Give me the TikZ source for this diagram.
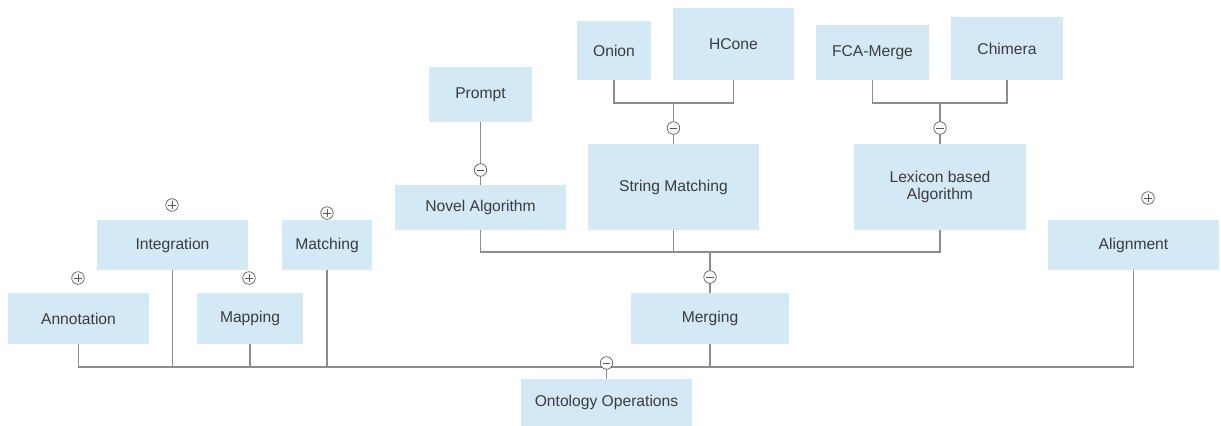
\documentclass[tikz,border=0pt]{standalone}
\usepackage{fontspec}
\setmainfont{Liberation Sans}
\usepackage{tikz}

\definecolor{opblue}{RGB}{212,233,246}
\definecolor{optext}{RGB}{60,60,60}
\definecolor{opline}{RGB}{140,140,140}
\definecolor{opmark}{RGB}{90,90,90}

\tikzset{
  opbox/.style={fill=opblue, text=optext, inner sep=0pt, align=center,
    font=\fontsize{8.9pt}{9.2pt}\selectfont},
  link/.style={draw=opline, line width=0.8pt},
  markbase/.style={circle, draw=opmark, fill=white, line width=0.4pt,
    minimum size=0.25cm, inner sep=0pt},
  minusmark/.style={markbase, path picture={
    \draw[opmark, line width=0.5pt] ([xshift=-0.075cm]path picture bounding box.center)
      -- ([xshift=0.075cm]path picture bounding box.center);}},
  plusmark/.style={markbase, path picture={
    \draw[opmark, line width=0.5pt] ([xshift=-0.075cm]path picture bounding box.center)
      -- ([xshift=0.075cm]path picture bounding box.center);
    \draw[opmark, line width=0.5pt] ([yshift=-0.075cm]path picture bounding box.center)
      -- ([yshift=0.075cm]path picture bounding box.center);}}
}

\begin{document}
\begin{tikzpicture}[x=0.02cm, y=-0.02cm]
  \useasboundingbox (0,0) rectangle (1221,426);

  % boxes
  \node[opbox, minimum width=2.82cm, minimum height=1.02cm] (annot) at (78.5,318.5) {Annotation};
  \node[opbox, minimum width=3.02cm, minimum height=1.00cm] (integ) at (172.5,245) {Integration};
  \node[opbox, minimum width=2.12cm, minimum height=1.02cm] (mapping) at (250,318.5) {Mapping};
  \node[opbox, minimum width=1.80cm, minimum height=1.00cm] (matching) at (327,245) {Matching};
  \node[opbox, minimum width=2.06cm, minimum height=1.10cm] (prompt) at (480.5,94.5) {Prompt};
  \node[opbox, minimum width=3.42cm, minimum height=0.90cm] (novel) at (480.5,207.5) {Novel Algorithm};
  \node[opbox, minimum width=1.48cm, minimum height=1.18cm] (onion) at (614,50.5) {Onion};
  \node[opbox, minimum width=2.42cm, minimum height=1.44cm] (hcone) at (733.5,44) {HCone};
  \node[opbox, minimum width=3.42cm, minimum height=1.72cm] (string) at (673.5,187) {String Matching};
  \node[opbox, minimum width=2.26cm, minimum height=1.10cm] (fca) at (872.5,52.5) {FCA-Merge};
  \node[opbox, minimum width=2.24cm, minimum height=1.26cm] (chimera) at (1007,48.5) {Chimera};
  \node[opbox, minimum width=3.44cm, minimum height=1.72cm] (lexicon) at (940,187) {Lexicon based\\Algorithm};
  \node[opbox, minimum width=3.42cm, minimum height=1.00cm] (align) at (1133.5,245) {Alignment};
  \node[opbox, minimum width=3.16cm, minimum height=1.02cm] (merging) at (710,318.5) {Merging};
  \node[opbox, minimum width=3.42cm, minimum height=0.94cm] (onto) at (606.5,402.5) {Ontology Operations};

  % junctions
  \coordinate (smJ) at (673.5,103);
  \coordinate (lxJ) at (940,103);
  \coordinate (mgJ) at (710,252);
  \coordinate (opJ) at (606.5,367);

  % connectors
  \draw[link] (onion.south) |- (smJ) -| (hcone.south);
  \draw[link] (smJ) -- (string.north);
  \draw[link] (fca.south) |- (lxJ) -| (chimera.south);
  \draw[link] (lxJ) -- (lexicon.north);
  \draw[link] (prompt.south) -- (novel.north);
  \draw[link] (novel.south) |- (mgJ) -| (lexicon.south);
  \draw[link] (string.south) -- (string.south |- mgJ);
  \draw[link] (mgJ) -- (merging.north);
  \draw[link] (annot.south) |- (opJ) -| (align.south);
  \foreach \n in {integ,mapping,matching,merging}
    \draw[link] (\n.south) -- (\n.south |- opJ);
  \draw[link] (opJ) -- (onto.north);

  % markers
  \node[minusmark] (mString) at (673.5,128) {};
  \node[minusmark] (mLexicon) at (940,128) {};
  \node[minusmark] (mNovel) at (480.5,170) {};
  \node[minusmark] (mMerging) at (710,277) {};
  \node[minusmark] (mOnto) at (606.5,363) {};
  \node[plusmark] (pAnnot) at (78,278) {};
  \node[plusmark] (pInteg) at (172,205) {};
  \node[plusmark] (pMapping) at (249,278) {};
  \node[plusmark] (pMatching) at (327,213) {};
  \node[plusmark] (pAlign) at (1148,198) {};
\end{tikzpicture}
\end{document}
